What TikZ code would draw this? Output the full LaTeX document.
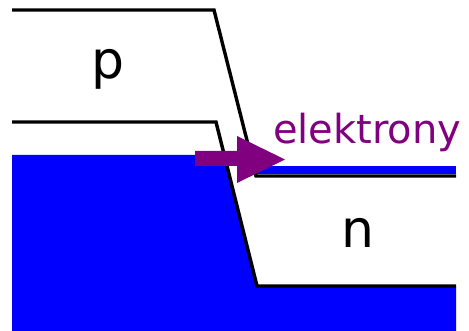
\documentclass[tikz,border=0pt]{standalone}
\usepackage{fontspec}
\setmainfont{DejaVu Sans}
\definecolor{bandblue}{RGB}{0,0,255}
\definecolor{epurple}{RGB}{128,0,128}
\begin{document}
\begin{tikzpicture}[x=1pt,y=-1pt,
  bandline/.style={line width=3.4pt,black},
  lbl/.style={inner sep=0pt,anchor=base,font=\fontsize{52}{52}\selectfont}]
\useasboundingbox (0,0) rectangle (469,331);
% filled electrons
\fill[bandblue] (12,155) -- (224,155) -- (257,287) -- (456,287) -- (456,331) -- (12,331) -- cycle;
\fill[bandblue] (257,166) rectangle (456,174);
% band edges
\coordinate (a1) at (12,10);
\coordinate (a2) at (214,10);
\coordinate (a3) at (256,176);
\coordinate (a4) at (456,176);
\coordinate (b1) at (12,122);
\coordinate (b2) at (216,122);
\coordinate (b3) at (257,286);
\coordinate (b4) at (456,286);
\draw[bandline] (a1) -- (a2) -- (a3) -- (a4);
\draw[bandline] (b1) -- (b2) -- (b3) -- (b4);
% arrow
\fill[epurple] (195,151) -- (237,151) -- (237,136) -- (285,159.5) -- (237,183) -- (237,166) -- (195,166) -- cycle;
\node[lbl] (p) at (108,79) {p};
\node[lbl] (n) at (358,248) {n};
\node[inner sep=0pt,anchor=base west,text=epurple,font=\fontsize{40}{40}\selectfont] (el) at (273,144) {elektrony};
\end{tikzpicture}
\end{document}
